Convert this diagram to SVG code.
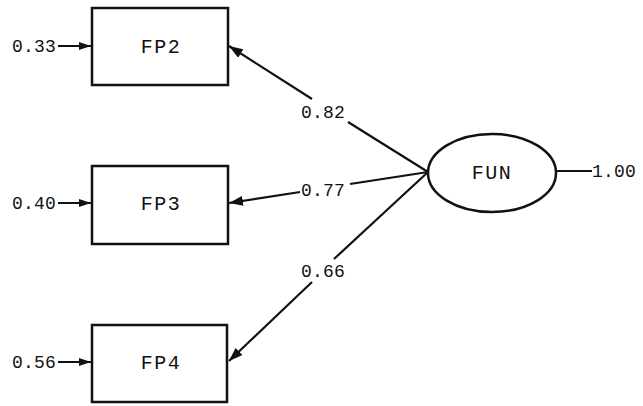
<svg xmlns="http://www.w3.org/2000/svg" width="643" height="406" viewBox="0 0 643 406">
<style>
.box{fill:#fff;stroke:#111;stroke-width:2.5}
.ln{stroke:#111;stroke-width:2.2;fill:none}
.num{font-family:"Liberation Mono",monospace;font-size:18px;fill:#111;letter-spacing:0.2px}
.lab{font-family:"Liberation Mono",monospace;font-size:20px;fill:#111;letter-spacing:1.5px;text-anchor:middle}
</style>
<defs>
<marker id="ah" viewBox="0 0 14 10" refX="14" refY="5" markerWidth="14" markerHeight="10" markerUnits="userSpaceOnUse" orient="auto">
<path d="M0,0 L14,5 L0,10 Z" fill="#111"/>
</marker>
<marker id="ahs" viewBox="0 0 12 8" refX="12" refY="4" markerWidth="12" markerHeight="8" markerUnits="userSpaceOnUse" orient="auto">
<path d="M0,0 L12,4 L0,8 Z" fill="#111"/>
</marker>
</defs>
<g id="connectors">
<line class="ln" x1="58" y1="46" x2="91" y2="46" marker-end="url(#ahs)"/>
<line class="ln" x1="58" y1="203" x2="91" y2="203" marker-end="url(#ahs)"/>
<line class="ln" x1="58" y1="362" x2="91" y2="362" marker-end="url(#ahs)"/>
<line class="ln" x1="428" y1="172" x2="348" y2="122"/>
<line class="ln" x1="312" y1="99" x2="229" y2="46" marker-end="url(#ah)"/>
<line class="ln" x1="428" y1="172" x2="350" y2="184"/>
<line class="ln" x1="300" y1="192" x2="229" y2="203" marker-end="url(#ah)"/>
<line class="ln" x1="428" y1="172" x2="334" y2="259"/>
<line class="ln" x1="312" y1="282" x2="229" y2="361" marker-end="url(#ah)"/>
<line class="ln" x1="557" y1="171" x2="592" y2="171"/>
<text class="num" x="301" y="118">0.82</text>
<text class="num" x="301" y="196">0.77</text>
<text class="num" x="301" y="277">0.66</text>
<text class="num" x="12" y="52">0.33</text>
<text class="num" x="12" y="209">0.40</text>
<text class="num" x="12" y="368">0.56</text>
<text class="num" x="592" y="177">1.00</text>
</g>
<g id="FP2">
<rect class="box" x="92" y="8" width="136" height="77"/>
<text class="lab" x="161" y="53">FP2</text>
</g>
<g id="FP3">
<rect class="box" x="92" y="166" width="136" height="78"/>
<text class="lab" x="161" y="210">FP3</text>
</g>
<g id="FP4">
<rect class="box" x="92" y="325" width="135" height="77"/>
<text class="lab" x="161" y="369">FP4</text>
</g>
<g id="FUN">
<ellipse class="box" cx="492" cy="173" rx="64" ry="39"/>
<text class="lab" x="492" y="179">FUN</text>
</g>
</svg>
